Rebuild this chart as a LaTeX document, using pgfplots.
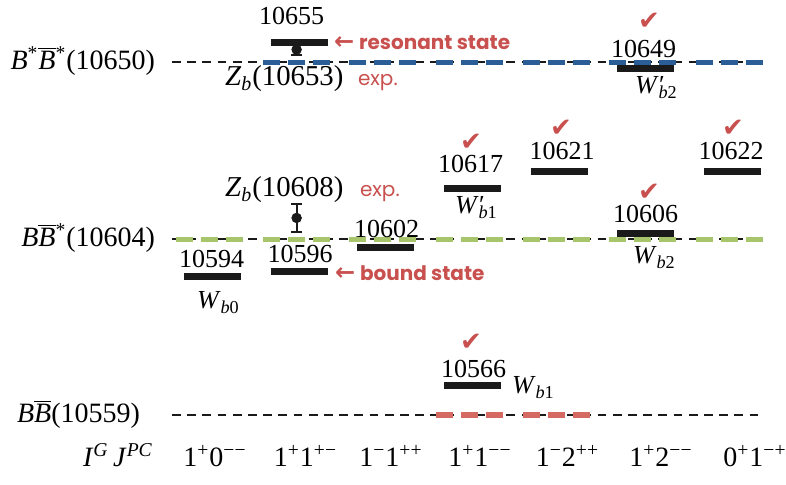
\documentclass[border=0pt]{standalone}
\usepackage{pgfplots}
\pgfplotsset{compat=1.18}
\usepackage{fontspec}
\setmainfont{Liberation Serif}
\newfontfamily\pop{Poppins}
\newfontfamily\dejavu{DejaVu Sans}
\definecolor{blueC}{RGB}{43,93,150}
\definecolor{greenC}{RGB}{167,198,108}
\definecolor{redD}{RGB}{212,106,98}
\definecolor{redT}{RGB}{200,80,78}
\definecolor{barC}{RGB}{26,26,26}
\newcommand{\num}{\fontsize{13}{15}\selectfont}
\newcommand{\lab}{\fontsize{14}{16}\selectfont}
\newcommand{\chk}{{\dejavu\fontsize{13}{15}\selectfont\color{redT}✔}}
\begin{document}
\begin{tikzpicture}
\useasboundingbox (0,0) rectangle (393pt,242.5pt);
\begin{axis}[at={(84.6pt,7.85pt)}, anchor=south west, scale only axis,
  width=303.35pt, height=232.73pt, xmin=0.5, xmax=7.5, ymin=10545, ymax=10665,
  hide axis, clip=false]
% threshold lines (black dashed)
\addplot[barC, line width=1.2pt, dash pattern=on 4.4pt off 3.2pt] coordinates {(0.533,10650) (7.36,10650)};
\addplot[barC, line width=1.2pt, dash pattern=on 4.4pt off 3.2pt] coordinates {(0.533,10604.3) (7.36,10604.3)};
\addplot[barC, line width=1.2pt, dash pattern=on 4.4pt off 3.2pt] coordinates {(0.533,10559) (7.36,10559)};
% blue segments (columns 2-7)
\addplot[blueC, line width=2.5pt, dash pattern=on 8.5pt off 4pt] coordinates {(1.58,10650) (2.353,10650)};
\addplot[blueC, line width=2.5pt, dash pattern=on 8.5pt off 4pt] coordinates {(2.58,10650) (3.353,10650)};
\addplot[blueC, line width=2.5pt, dash pattern=on 8.5pt off 4pt] coordinates {(3.58,10650) (4.353,10650)};
\addplot[blueC, line width=2.5pt, dash pattern=on 8.5pt off 4pt] coordinates {(4.58,10650) (5.353,10650)};
\addplot[blueC, line width=2.5pt, dash pattern=on 8.5pt off 4pt] coordinates {(5.58,10650) (6.353,10650)};
\addplot[blueC, line width=2.5pt, dash pattern=on 8.5pt off 4pt] coordinates {(6.58,10650) (7.353,10650)};
% green segments (columns 1-7)
\addplot[greenC, line width=2.6pt, dash pattern=on 8.5pt off 4pt] coordinates {(0.58,10604.3) (1.353,10604.3)};
\addplot[greenC, line width=2.6pt, dash pattern=on 8.5pt off 4pt] coordinates {(1.58,10604.3) (2.353,10604.3)};
\addplot[greenC, line width=2.6pt, dash pattern=on 8.5pt off 4pt] coordinates {(2.58,10604.3) (3.353,10604.3)};
\addplot[greenC, line width=2.6pt, dash pattern=on 8.5pt off 4pt] coordinates {(3.58,10604.3) (4.353,10604.3)};
\addplot[greenC, line width=2.6pt, dash pattern=on 8.5pt off 4pt] coordinates {(4.58,10604.3) (5.353,10604.3)};
\addplot[greenC, line width=2.6pt, dash pattern=on 8.5pt off 4pt] coordinates {(5.58,10604.3) (6.353,10604.3)};
\addplot[greenC, line width=2.6pt, dash pattern=on 8.5pt off 4pt] coordinates {(6.58,10604.3) (7.353,10604.3)};
% red segments (columns 4-5)
\addplot[redD, line width=2.8pt, dash pattern=on 8.5pt off 4pt] coordinates {(3.58,10559) (4.353,10559)};
\addplot[redD, line width=2.8pt, dash pattern=on 8.5pt off 4pt] coordinates {(4.58,10559) (5.353,10559)};
% experimental points
\addplot[barC, only marks, mark=*, mark size=2.4pt,
  error bars/.cd, y dir=both, y explicit,
  error bar style={line width=1pt, barC},
  error mark options={rotate=90, mark size=2.6pt, line width=1pt, barC}]
  coordinates {(1.97,10653.2) +- (0,1.5) (1.97,10609.8) +- (0,3.5)};
% levels
\addplot[barC, line width=3.5pt] coordinates {(1.671,10655) (2.329,10655)};
\addplot[barC, line width=3.5pt] coordinates {(5.671,10648.2) (6.329,10648.2)};
\addplot[barC, line width=3.5pt] coordinates {(0.671,10594.6) (1.329,10594.6)};
\addplot[barC, line width=3.5pt] coordinates {(1.671,10596) (2.329,10596)};
\addplot[barC, line width=3.5pt] coordinates {(2.671,10602.2) (3.329,10602.2)};
\addplot[barC, line width=3.5pt] coordinates {(3.671,10617.5) (4.329,10617.5)};
\addplot[barC, line width=3.5pt] coordinates {(4.671,10621.8) (5.329,10621.8)};
\addplot[barC, line width=3.5pt] coordinates {(6.671,10621.8) (7.329,10621.8)};
\addplot[barC, line width=3.5pt] coordinates {(5.671,10605.7) (6.329,10605.7)};
\addplot[barC, line width=3.5pt] coordinates {(3.671,10566.5) (4.329,10566.5)};
\end{axis}
\begin{scope}[x=0.5pt,y=-0.5pt,shift={(0,242.5pt)}]
\tikzset{every node/.style={inner sep=0pt, outer sep=0pt}}
% level values
\node[anchor=center] at (291.5,15.5) {\num 10655};
\node[anchor=center] at (643.5,48.5) {\num 10649};
\node[anchor=center] at (470.5,164) {\num 10617};
\node[anchor=center] at (562,150.5) {\num 10621};
\node[anchor=center] at (731,150.5) {\num 10622};
\node[anchor=center] at (645.5,214) {\num 10606};
\node[anchor=center] at (386.5,228.5) {\num 10602};
\node[anchor=center] at (211.5,259) {\num 10594};
\node[anchor=center] at (300,253.5) {\num 10596};
\node[anchor=center] at (473.5,369) {\num 10566};
% state names
\node[anchor=base west] at (635,94) {\num\textit{W}\rlap{\kern0.3pt′}\textsubscript{\textit{b}2}};
\node[anchor=base west] at (455,214) {\num\textit{W}\rlap{\kern0.3pt′}\textsubscript{\textit{b}1}};
\node[anchor=base west] at (633,264) {\num\textit{W}\textsubscript{\textit{b}2}};
\node[anchor=base west] at (197,309) {\num\textit{W}\textsubscript{\textit{b}0}};
\node[anchor=base west] at (512,394) {\num\textit{W}\textsubscript{\textit{b}1}};
\node[anchor=base west] at (225,86) {\fontsize{14.4}{16}\selectfont\textit{Z}\textsubscript{\textit{b}}(10653)};
\node[anchor=base west] at (225,197) {\fontsize{14.4}{16}\selectfont\textit{Z}\textsubscript{\textit{b}}(10608)};
% annotations
\node[anchor=base west] at (358,86) {\pop\fontsize{10}{12}\selectfont\color{redT}exp.};
\node[anchor=base west] at (360,197) {\pop\fontsize{10}{12}\selectfont\color{redT}exp.};
\node[anchor=base west] at (334,50) {\color{redT}{\dejavu\bfseries\fontsize{12}{14}\selectfont ←}\hspace{2.5pt}{\pop\bfseries\fontsize{10}{12}\selectfont resonant state}};
\node[anchor=base west] at (335,281) {\color{redT}{\dejavu\bfseries\fontsize{12}{14}\selectfont ←}\hspace{2.5pt}{\pop\bfseries\fontsize{10}{12}\selectfont bound state}};
% check marks
\node[anchor=center] at (649,21) {\chk};
\node[anchor=center] at (471,142) {\chk};
\node[anchor=center] at (561,128) {\chk};
\node[anchor=center] at (733,128) {\chk};
\node[anchor=center] at (649,192) {\chk};
\node[anchor=center] at (471,342) {\chk};
% thresholds
\node[anchor=base east] at (155,70) {\lab\textit{B}\textsuperscript{*}$\overline{\mbox{\textit{B}}}$\textsuperscript{*}(10650)};
\node[anchor=base east] at (155,247) {\lab\textit{B}$\overline{\mbox{\textit{B}}}$\textsuperscript{*}(10604)};
\node[anchor=base east] at (140,423) {\lab\textit{B}$\overline{\mbox{\textit{B}}}$(10559)};
% quantum numbers
\node[anchor=base west] at (83,467) {\lab\textit{I}\textsuperscript{\textit{G}}\,\textit{J}\textsuperscript{\textit{PC}}};
\node[anchor=base] at (215,467) {\lab 1\textsuperscript{+}0\textsuperscript{−−}};
\node[anchor=base] at (305.5,467) {\lab 1\textsuperscript{+}1\textsuperscript{+−}};
\node[anchor=base] at (391,467) {\lab 1\textsuperscript{−}1\textsuperscript{++}};
\node[anchor=base] at (480,467) {\lab 1\textsuperscript{+}1\textsuperscript{−−}};
\node[anchor=base] at (567.5,467) {\lab 1\textsuperscript{−}2\textsuperscript{++}};
\node[anchor=base] at (661,467) {\lab 1\textsuperscript{+}2\textsuperscript{−−}};
\node[anchor=base] at (755,467) {\lab 0\textsuperscript{+}1\textsuperscript{−+}};
\end{scope}
\end{tikzpicture}
\end{document}
